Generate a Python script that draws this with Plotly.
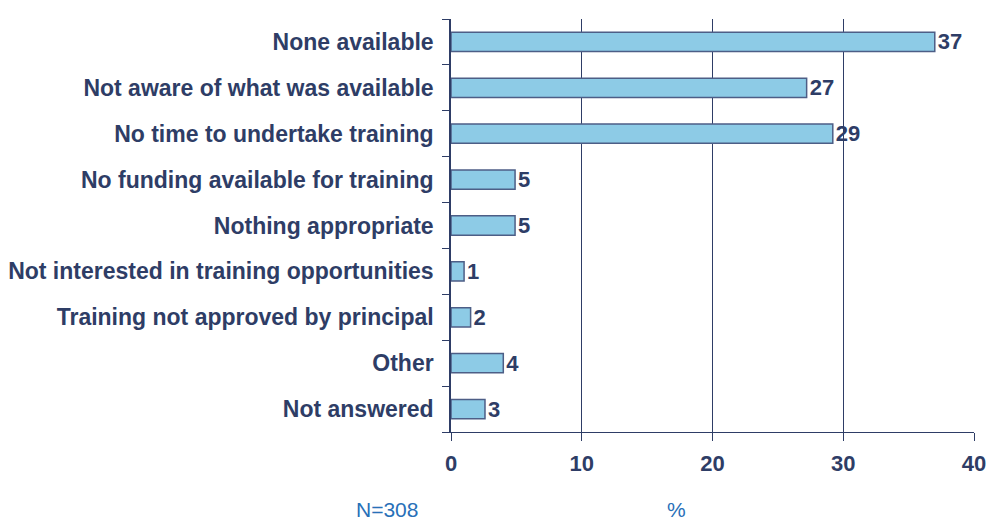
import plotly.graph_objects as go

categories = [
    "None available",
    "Not aware of what was available",
    "No time to undertake training",
    "No funding available for training",
    "Nothing appropriate",
    "Not interested in training opportunities",
    "Training not approved by principal",
    "Other",
    "Not answered",
]
values = [37.0, 27.2, 29.2, 4.9, 4.9, 1.0, 1.5, 4.0, 2.6]
x_ticks = [0, 10, 20, 30, 40]

NAVY = "#2E3D66"
FONT = "Liberation Sans, Arial, sans-serif"
W, H = 990, 522
L, T = 451, 19
R, B = W - 974, H - 432
PW, PH = W - L - R, H - T - B

fig = go.Figure()
fig.add_trace(go.Bar(
    x=values,
    y=categories,
    orientation="h",
    marker=dict(color="#8DCBE6", line=dict(color="#4D5E86", width=1.5)),
    width=0.42,
    text=values,
    texttemplate="<b>%{x:.0f}</b>",
    textposition="outside",
    constraintext="none",
    textfont=dict(family=FONT, size=22, color=NAVY),
    cliponaxis=False,
))

fig.update_layout(
    width=W, height=H,
    margin=dict(l=L, r=R, t=T, b=B, autoexpand=False),
    paper_bgcolor="white", plot_bgcolor="white",
    showlegend=False,
    font=dict(family=FONT, color=NAVY),
)
fig.update_xaxes(
    range=[0, 40], tickvals=x_ticks, ticktext=[f"<b>{t}</b>" for t in x_ticks],
    showgrid=True, gridcolor=NAVY, gridwidth=1,
    showline=True, linecolor=NAVY, linewidth=1,
    ticks="outside", ticklen=8, tickcolor=NAVY,
    tickfont=dict(family=FONT, size=22, color=NAVY),
    ticklabelstandoff=4, zeroline=False, automargin=False,
    ticklabeloverflow="allow",
)
fig.update_yaxes(
    categoryorder="array", categoryarray=categories, autorange="reversed",
    tickson="boundaries", ticks="outside", ticklen=7, tickcolor=NAVY,
    showline=True, linecolor=NAVY, linewidth=1.5,
    showgrid=False,
    tickvals=categories, ticktext=[f"<b>{c}</b>" for c in categories],
    tickfont=dict(family=FONT, size=23, color=NAVY),
    ticklabelstandoff=11, automargin=False,
)
fig.add_annotation(xref="paper", yref="paper", x=(387 - L) / PW, y=-(509 - 432) / PH,
                   text="N=308", showarrow=False, xanchor="center", yanchor="middle",
                   font=dict(family=FONT, size=21, color="#2870B8"))
fig.add_annotation(xref="paper", yref="paper", x=(676 - L) / PW, y=-(509 - 432) / PH,
                   text="%", showarrow=False, xanchor="center", yanchor="middle",
                   font=dict(family=FONT, size=21, color="#2870B8"))

fig.write_html("out.html", config={"displayModeBar": False},
               post_script="document.body.style.margin='0';document.body.style.overflow='hidden';")
